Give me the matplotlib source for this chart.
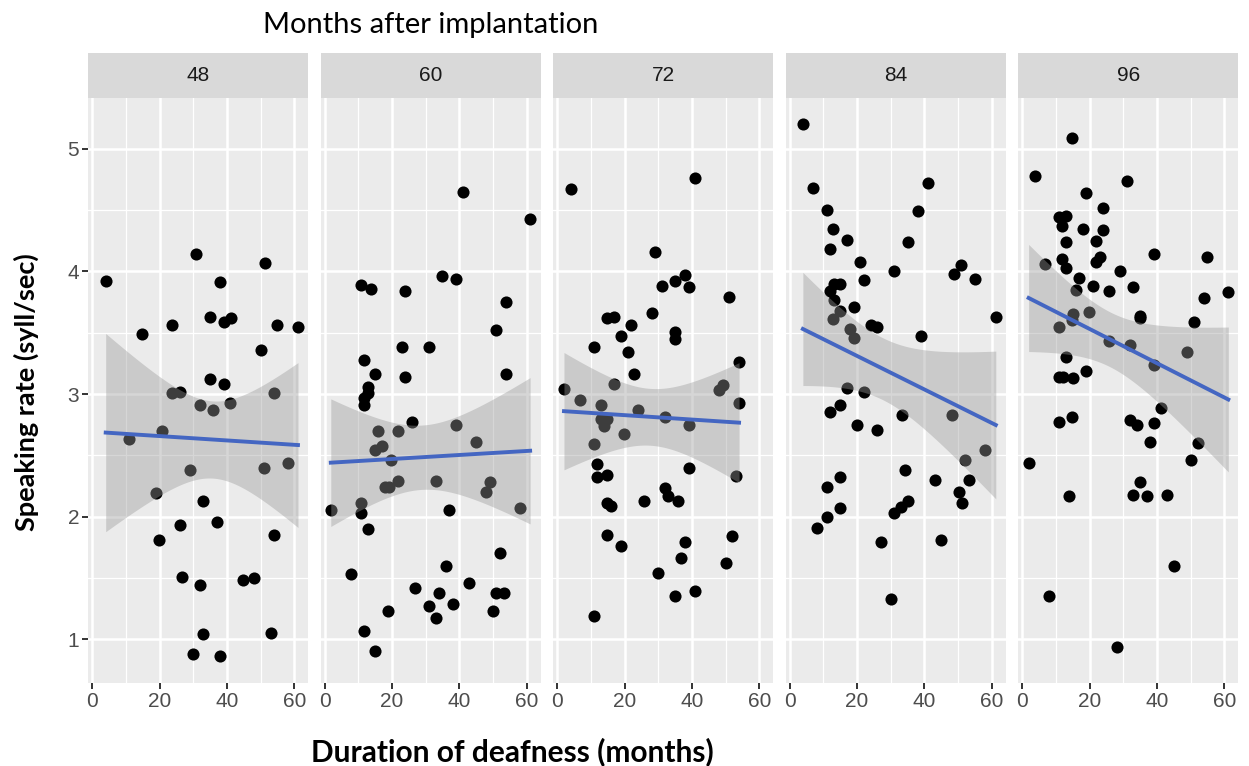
import numpy as np
import matplotlib
matplotlib.use('Agg')
import matplotlib.pyplot as plt
from matplotlib.ticker import MultipleLocator

# months after implantation (facets)
months = [48, 60, 72, 84, 96]

# duration of deafness (months) and speaking rate (syll/sec), one pair per facet
dur_48 = [4.0, 30.9, 51.2, 38.0, 14.9, 23.8, 34.9, 39.0, 41.1, 55.0, 61.1, 50.0, 34.9,
          39.1, 23.8, 26.1, 32.0, 36.0, 40.9, 54.1, 20.8, 10.8, 28.9, 51.1, 58.1, 18.9,
          32.8, 37.0, 26.0, 54.1, 19.8, 26.8, 31.9, 44.9, 48.1, 32.8, 53.1, 29.9, 38.0]
rate_48 = [3.92, 4.14, 4.07, 3.91, 3.49, 3.56, 3.63, 3.59, 3.62, 3.56, 3.55, 3.36, 3.12,
           3.08, 3.01, 3.02, 2.91, 2.87, 2.93, 3.01, 2.70, 2.63, 2.38, 2.40, 2.44, 2.19,
           2.13, 1.96, 1.93, 1.85, 1.81, 1.51, 1.44, 1.48, 1.50, 1.04, 1.05, 0.88, 0.86]

dur_60 = [41.0, 61.0, 10.7, 13.7, 23.8, 34.8, 38.9, 53.9, 51.0, 22.8, 30.9, 11.8, 14.8,
          23.8, 53.9, 12.7, 12.7, 11.8, 11.8, 25.8, 38.9, 15.8, 21.8, 44.9, 16.9, 14.9,
          19.8, 21.8, 32.9, 17.9, 19.0, 49.0, 47.9, 10.8, 10.8, 1.8, 36.9, 58.0, 12.7,
          52.0, 35.9, 7.8, 42.9, 26.9, 33.9, 38.0, 51.0, 53.2, 18.8, 30.9, 32.9, 50.0,
          11.8, 14.8]
rate_60 = [4.65, 4.43, 3.89, 3.86, 3.84, 3.96, 3.94, 3.75, 3.52, 3.38, 3.38, 3.28, 3.16,
           3.14, 3.16, 3.06, 3.01, 2.97, 2.91, 2.77, 2.75, 2.70, 2.70, 2.61, 2.58, 2.54,
           2.46, 2.29, 2.29, 2.24, 2.24, 2.28, 2.20, 2.11, 2.03, 2.05, 2.05, 2.07, 1.90,
           1.70, 1.60, 1.53, 1.46, 1.42, 1.38, 1.29, 1.38, 1.38, 1.23, 1.27, 1.17, 1.23,
           1.07, 0.90]

dur_72 = [4.0, 41.0, 29.0, 38.0, 31.1, 34.9, 39.0, 51.0, 28.0, 14.9, 17.0, 21.9, 18.9,
          34.9, 34.9, 10.9, 20.9, 54.0, 22.9, 2.0, 17.0, 48.0, 49.1, 6.8, 12.9, 54.0,
          23.9, 12.9, 14.9, 31.9, 14.0, 39.0, 19.9, 10.9, 11.9, 11.9, 14.9, 39.0, 53.1,
          31.9, 33.0, 35.9, 25.9, 14.9, 16.0, 14.9, 18.9, 38.0, 52.0, 36.9, 50.0, 30.0,
          34.9, 41.0, 10.9]
rate_72 = [4.67, 4.76, 4.16, 3.97, 3.88, 3.92, 3.87, 3.79, 3.66, 3.62, 3.63, 3.56, 3.47,
           3.51, 3.45, 3.38, 3.34, 3.26, 3.16, 3.04, 3.08, 3.03, 3.07, 2.95, 2.91, 2.93,
           2.87, 2.80, 2.80, 2.81, 2.74, 2.75, 2.67, 2.59, 2.43, 2.32, 2.34, 2.40, 2.33,
           2.23, 2.17, 2.13, 2.13, 2.11, 2.09, 1.85, 1.76, 1.79, 1.84, 1.66, 1.62, 1.54,
           1.35, 1.39, 1.19]

dur_84 = [3.9, 6.9, 41.0, 11.0, 38.0, 12.9, 17.0, 12.0, 35.0, 21.0, 31.1, 51.0, 48.9,
          55.1, 22.1, 13.0, 15.0, 12.0, 13.0, 19.0, 15.0, 12.9, 61.2, 24.0, 25.9, 18.0,
          19.0, 39.1, 17.0, 22.1, 15.0, 12.0, 33.2, 48.1, 20.0, 26.0, 58.0, 52.2, 34.1,
          15.0, 11.0, 43.0, 53.2, 50.2, 51.1, 35.1, 33.1, 31.1, 15.0, 11.0, 8.0, 27.0,
          45.0, 30.1]
rate_84 = [5.20, 4.68, 4.72, 4.50, 4.49, 4.35, 4.26, 4.18, 4.24, 4.08, 4.00, 4.05, 3.98,
           3.94, 3.93, 3.90, 3.90, 3.84, 3.77, 3.71, 3.68, 3.61, 3.63, 3.56, 3.55, 3.53,
           3.46, 3.47, 3.05, 3.02, 2.91, 2.85, 2.83, 2.83, 2.75, 2.71, 2.54, 2.46, 2.38,
           2.32, 2.24, 2.30, 2.30, 2.20, 2.11, 2.13, 2.08, 2.03, 2.07, 2.00, 1.91, 1.79,
           1.81, 1.33]

dur_96 = [14.9, 3.8, 31.0, 18.9, 24.0, 10.9, 13.1, 11.9, 17.9, 24.0, 13.0, 22.0, 11.9,
          13.0, 22.0, 23.0, 39.1, 55.0, 6.8, 29.0, 16.9, 21.0, 33.0, 15.9, 25.9, 61.2,
          54.1, 15.0, 19.9, 35.0, 35.0, 51.0, 11.0, 14.9, 25.9, 32.0, 49.0, 13.0, 18.9,
          39.0, 10.9, 12.1, 15.0, 41.1, 11.0, 14.9, 32.0, 34.0, 39.1, 38.0, 52.1, 1.9,
          50.1, 35.0, 14.0, 33.0, 37.0, 43.0, 45.0, 7.9, 28.1]
rate_96 = [5.09, 4.78, 4.74, 4.64, 4.52, 4.44, 4.45, 4.37, 4.35, 4.34, 4.24, 4.25, 4.10,
           4.03, 4.08, 4.12, 4.14, 4.12, 4.06, 4.00, 3.95, 3.88, 3.87, 3.85, 3.84, 3.83,
           3.78, 3.65, 3.67, 3.64, 3.62, 3.59, 3.55, 3.60, 3.43, 3.40, 3.34, 3.30, 3.19,
           3.24, 3.14, 3.14, 3.13, 2.89, 2.77, 2.81, 2.79, 2.75, 2.76, 2.61, 2.60, 2.44,
           2.46, 2.28, 2.17, 2.18, 2.17, 2.18, 1.60, 1.35, 0.94]

durations = [dur_48, dur_60, dur_72, dur_84, dur_96]
rates = [rate_48, rate_60, rate_72, rate_84, rate_96]


def t975(df):
    # Cornish-Fisher style expansion of the 97.5% t quantile
    z = 1.959964
    return z + (z**3 + z) / (4*df) + (5*z**5 + 16*z**3 + 3*z) / (96*df**2)


def lm_band(x, y, n=80):
    x = np.asarray(x)
    y = np.asarray(y)
    b, a = np.polyfit(x, y, 1)
    xs = np.linspace(x.min(), x.max(), n)
    fit = a + b*xs
    resid = y - (a + b*x)
    k = len(x)
    s = np.sqrt(np.sum(resid**2) / (k - 2))
    se = s * np.sqrt(1/k + (xs - x.mean())**2 / np.sum((x - x.mean())**2))
    t = t975(k - 2)
    return xs, fit, fit - t*se, fit + t*se


W, H = 1249, 766
fig = plt.figure(figsize=(W/100, H/100), dpi=100)

all_x = np.concatenate(durations)
all_y = np.concatenate(rates)
xr = all_x.max() - all_x.min()
yr = all_y.max() - all_y.min()
xlim = (all_x.min() - 0.05*xr, all_x.max() + 0.05*xr)
ylim = (all_y.min() - 0.05*yr, all_y.max() + 0.05*yr)

left0, pw, gap = 88.3, 220.0, 12.5
ptop, pbot, stop = 97.7, 683.0, 53.3

for i, m in enumerate(months):
    x0 = left0 + i*(pw + gap)
    ax = fig.add_axes([x0/W, (H - pbot)/H, pw/W, (pbot - ptop)/H])
    ax.set_facecolor('#EBEBEB')
    for sp in ax.spines.values():
        sp.set_visible(False)
    ax.set_xlim(xlim)
    ax.set_ylim(ylim)
    ax.xaxis.set_major_locator(MultipleLocator(20))
    ax.xaxis.set_minor_locator(MultipleLocator(10))
    ax.yaxis.set_major_locator(MultipleLocator(1))
    ax.yaxis.set_minor_locator(MultipleLocator(0.5))
    ax.grid(which='major', color='white', lw=1.8)
    ax.grid(which='minor', color='white', lw=0.9)
    ax.set_axisbelow(True)
    ax.tick_params(which='minor', length=0)
    ax.tick_params(which='major', length=4.5, width=1.4, color='#333333',
                   labelsize=15, labelcolor='#4D4D4D', pad=2)
    for lab in ax.get_xticklabels() + ax.get_yticklabels():
        lab.set_family('Liberation Sans')
    if i > 0:
        ax.tick_params(axis='y', left=False, labelleft=False)

    ax.scatter(durations[i], rates[i], s=76, color='black', lw=0, zorder=2)
    xs, fit, lo, hi = lm_band(durations[i], rates[i])
    ax.fill_between(xs, lo, hi, color='#999999', alpha=0.4, lw=0, zorder=3)
    ax.plot(xs, fit, color='#4466C2', lw=2.8, zorder=4)

    sax = fig.add_axes([x0/W, (H - ptop)/H, pw/W, (ptop - stop)/H])
    sax.set_facecolor('#D9D9D9')
    sax.set_xticks([])
    sax.set_yticks([])
    for sp in sax.spines.values():
        sp.set_visible(False)
    sax.text(0.5, 0.5, str(m), ha='center', va='center', fontsize=15,
             color='#1A1A1A', family='Liberation Sans', transform=sax.transAxes)

fig.text(263/W, 1 - 33/H, 'Months after implantation', ha='left', va='baseline',
         fontsize=21, family='Lato', color='black')
fig.text(512/W, 1 - 761/H, 'Duration of deafness (months)', ha='center', va='baseline',
         fontsize=21.5, family='Lato', weight='bold', color='black')
fig.text(26/W, 1 - 392/H, 'Speaking rate (syll/sec)', ha='center', va='center',
         rotation=90, fontsize=19.5, family='Lato', weight='bold', color='black')

fig.savefig('out.png', dpi=100)
